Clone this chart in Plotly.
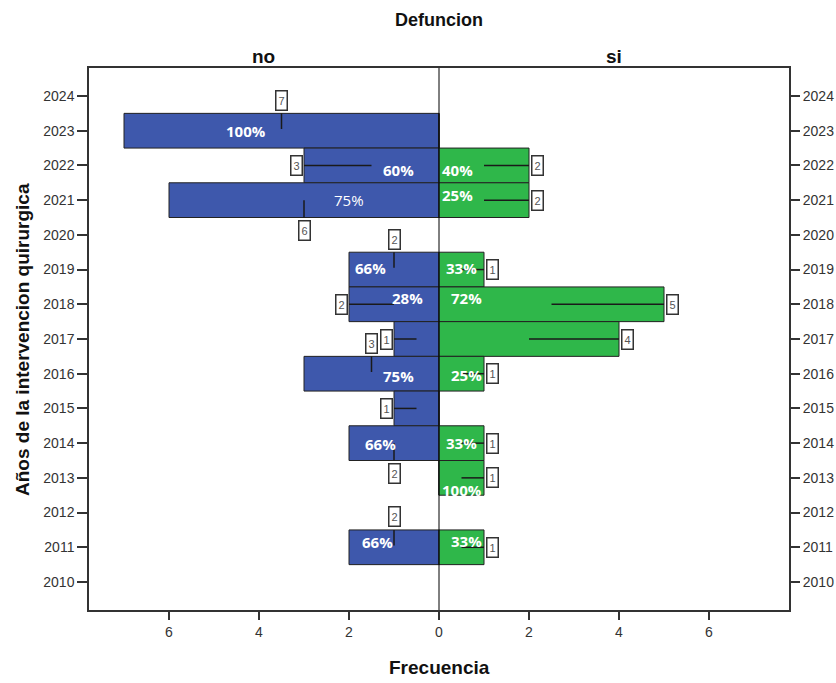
import plotly.graph_objects as go

# ---- data ----
years = [2023, 2022, 2021, 2019, 2018, 2017, 2016, 2015, 2014, 2013, 2011]
no_counts = [7, 3, 6, 2, 2, 1, 3, 1, 2, 0, 2]
si_counts = [0, 2, 2, 1, 5, 4, 1, 0, 1, 1, 1]
no_pct = ["100%", "60%", "75%", "66%", "28%", "", "75%", "", "66%", "", "66%"]
si_pct = ["", "40%", "25%", "33%", "72%", "", "25%", "", "33%", "100%", "33%"]
year_ticks = list(range(2010, 2025))
x_tickvals = [-6, -4, -2, 0, 2, 4, 6]
x_ticktext = ["6", "4", "2", "0", "2", "4", "6"]

# ---- label placement (styling only) ----
no_count_place = ["above", "side", "below", "above", "side", "side", "above", "side", "below", None, "above"]
no_pct_pos = [(-4.29, 0.0), (-0.91, -0.13), (-2.0, 0.0), (-1.53, 0.05), (-0.69, 0.18), None,
              (-0.91, -0.07), None, (-1.31, -0.02), None, (-1.36, 0.15)]
si_pct_pos = [None, (0.40, -0.13), (0.40, 0.15), (0.49, 0.05), (0.62, 0.18), None,
              (0.60, -0.04), None, (0.51, 0.0), (0.51, -0.35), (0.62, 0.18)]
no_pct_bold = [True, True, False, True, True, True, True, True, True, True, True]

BLUE = "#3E58AC"
GREEN = "#2FB74A"
XR = 350 / 45
YTOP = 2024 + 28 / 34.714
YBOT = 2010 - 28 / 34.714

fig = go.Figure()
fig.add_trace(go.Bar(
    y=years, x=[-c for c in no_counts], orientation="h", width=1,
    marker=dict(color=BLUE, line=dict(color="#222222", width=1)),
    hoverinfo="skip", showlegend=False))
fig.add_trace(go.Bar(
    y=years, x=si_counts, orientation="h", width=1,
    marker=dict(color=GREEN, line=dict(color="#222222", width=1)),
    hoverinfo="skip", showlegend=False))
fig.add_trace(go.Scatter(x=[0], y=[2017], yaxis="y2", mode="markers",
                         marker=dict(opacity=0), hoverinfo="skip", showlegend=False))

shapes = []
annotations = []
box_style = dict(showarrow=False, font=dict(family="Liberation Sans", size=11, color="#555555"),
                 bgcolor="white", bordercolor="#333333", borderwidth=1.5, borderpad=1,
                 width=8, height=16)
line_style = dict(color="#1a1a1a", width=1.5)

for i, yr in enumerate(years):
    c = no_counts[i]
    if c > 0:
        place = no_count_place[i]
        if place == "side":
            shapes.append(dict(type="line", xref="x", yref="y", x0=-c, x1=-c / 2, y0=yr, y1=yr, line=line_style))
            annotations.append(dict(x=-c, y=yr, xref="x", yref="y", text=str(c), xshift=-8, **box_style))
        elif place == "above":
            shapes.append(dict(type="line", xref="x", yref="y", x0=-c / 2, x1=-c / 2, y0=yr + 0.5, y1=yr + 0.05, line=line_style))
            annotations.append(dict(x=-c / 2, y=yr + 0.88, xref="x", yref="y", text=str(c), **box_style))
        elif place == "below":
            shapes.append(dict(type="line", xref="x", yref="y", x0=-c / 2, x1=-c / 2, y0=yr, y1=yr - 0.5, line=line_style))
            annotations.append(dict(x=-c / 2, y=yr - 0.86, xref="x", yref="y", text=str(c), **box_style))
    s = si_counts[i]
    if s > 0:
        shapes.append(dict(type="line", xref="x", yref="y", x0=s / 2, x1=s, y0=yr, y1=yr, line=line_style))
        annotations.append(dict(x=s, y=yr, xref="x", yref="y", text=str(s), xshift=8, **box_style))
    if no_pct[i] and no_pct_pos[i]:
        px, py = no_pct_pos[i]
        annotations.append(dict(x=px, y=yr + py, xref="x", yref="y", text=no_pct[i], showarrow=False,
                                font=dict(family="Open Sans", size=15, color="white",
                                          weight=("bold" if no_pct_bold[i] else "normal"))))
    if si_pct[i] and si_pct_pos[i]:
        px, py = si_pct_pos[i]
        annotations.append(dict(x=px, y=yr + py, xref="x", yref="y", text=si_pct[i], showarrow=False,
                                font=dict(family="Open Sans", size=15, color="white", weight="bold")))

shapes.append(dict(type="line", xref="x", yref="paper", x0=0, x1=0, y0=0, y1=1,
                   line=dict(color="black", width=1)))

hdr = dict(xref="paper", yref="paper", showarrow=False, xanchor="center", yanchor="middle")
annotations.append(dict(text="<b>Defuncion</b>", x=(439 - 89) / 700, y=1 + (68 - 20) / 542,
                        font=dict(family="Liberation Sans", size=18, color="#111"), **hdr))
annotations.append(dict(text="<b>no</b>", x=(263 - 89) / 700, y=1 + (68 - 56) / 542,
                        font=dict(family="Liberation Sans", size=19, color="#111"), **hdr))
annotations.append(dict(text="<b>si</b>", x=(614 - 89) / 700, y=1 + (68 - 56) / 542,
                        font=dict(family="Liberation Sans", size=19, color="#111"), **hdr))
annotations.append(dict(text="<b>Frecuencia</b>", x=(439 - 89) / 700, y=-(667 - 610) / 542,
                        font=dict(family="Liberation Sans", size=19, color="#111"), **hdr))
annotations.append(dict(text="<b>Años de la intervencion quirurgica</b>", x=-(89 - 22) / 700,
                        y=1 - (340 - 68) / 542, textangle=-90,
                        font=dict(family="Liberation Sans", size=19, color="#111"), **hdr))

fig.update_layout(
    width=836, height=683,
    margin=dict(l=89, r=47, t=68, b=73, autoexpand=False),
    paper_bgcolor="white", plot_bgcolor="white",
    barmode="overlay",
    shapes=shapes, annotations=annotations,
    font=dict(family="Liberation Sans", color="#222"),
    xaxis=dict(range=[-XR, XR], tickvals=x_tickvals, ticktext=x_ticktext, automargin=False,
               ticks="outside", ticklen=8, tickwidth=1.5, tickcolor="#333",
               showgrid=False, zeroline=False, showline=True, linecolor="#333", linewidth=1.5,
               mirror=True, tickfont=dict(size=14, color="#333")),
    yaxis=dict(range=[YBOT, YTOP], tickvals=year_ticks, ticks="outside", ticklen=10, automargin=False,
               tickwidth=1.5, tickcolor="#333", showgrid=False, zeroline=False,
               showline=True, linecolor="#333", linewidth=1.5, mirror=True,
               tickfont=dict(size=14, color="#333")),
    yaxis2=dict(range=[YBOT, YTOP], tickvals=year_ticks, ticks="outside", ticklen=10, automargin=False,
                tickwidth=1.5, tickcolor="#333", overlaying="y", side="right", anchor="x",
                showgrid=False, zeroline=False, showline=False,
                tickfont=dict(size=14, color="#333")),
)

fig.write_html("out.html")
